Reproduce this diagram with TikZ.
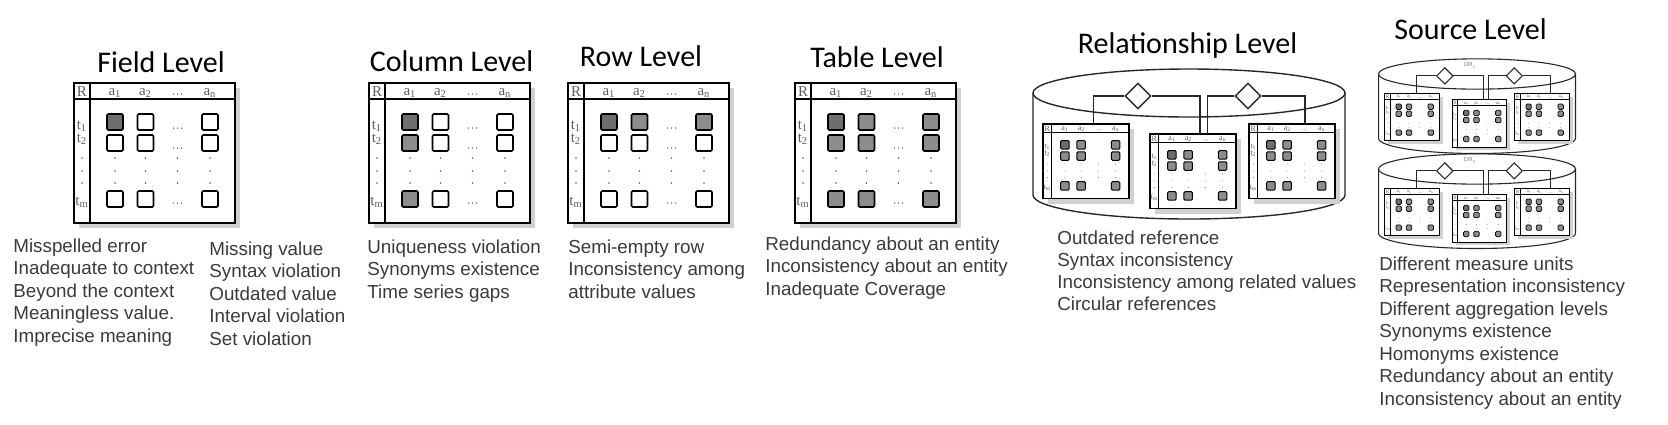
\documentclass[tikz,border=0pt]{standalone}
\usepackage{fontspec}
\setmainfont{Liberation Sans}
\newfontfamily\titlefont{Carlito}
\newfontfamily\cellfont{Liberation Serif}
\usetikzlibrary{shapes.geometric,calc}
\definecolor{txt}{RGB}{58,58,58}
\definecolor{dkc}{RGB}{110,110,110}
\definecolor{mdc}{RGB}{140,140,140}
\definecolor{labc}{RGB}{95,95,95}
\definecolor{shc}{RGB}{208,208,208}
\definecolor{cylc}{RGB}{40,40,40}
\newif\ifrowdots \rowdotstrue
\def\tablw{0.9pt}\def\cellw{0.8pt}\def\shoff{5}
\tikzset{
  c11/.style={fill=white}, c12/.style={fill=white}, c1n/.style={fill=white},
  c21/.style={fill=white}, c22/.style={fill=white}, c2n/.style={fill=white},
  cm1/.style={fill=white}, cm2/.style={fill=white}, cmn/.style={fill=white},
  fieldfill/.style={c11/.style={fill=dkc}},
  colfill/.style={c11/.style={fill=dkc}, c21/.style={fill=mdc}, cm1/.style={fill=mdc}},
  rowfill/.style={c11/.style={fill=dkc}, c12/.style={fill=mdc}, c1n/.style={fill=mdc}},
  tabfill/.style={c11/.style={fill=dkc}, c12/.style={fill=mdc}, c1n/.style={fill=mdc},
    c21/.style={fill=mdc}, c22/.style={fill=mdc}, c2n/.style={fill=mdc},
    cm1/.style={fill=mdc}, cm2/.style={fill=mdc}, cmn/.style={fill=mdc}},
  lab/.style={font=\cellfont\fontsize{7.5}{8}\selectfont, text=labc, inner sep=0pt, transform shape},
  title/.style={font=\titlefont\fontsize{15}{18}\selectfont, text=black, inner sep=0pt, anchor=base},
  body/.style={font=\fontsize{9.4}{11.25}\selectfont, text=txt, align=left, inner sep=0pt, anchor=north west},
  dmd/.style={shape=diamond, draw=cylc, fill=white, inner sep=0pt, aspect=1,
    minimum width=13pt, minimum height=13pt, transform shape},
}
\newcommand\hdt[2]{\fill[labc] (#1-4,#2) circle[radius=0.75] (#1,#2) circle[radius=0.75] (#1+4,#2) circle[radius=0.75];}
\newcommand\sqc[3]{\draw[line width=\cellw, rounded corners=0.6pt, #3] (#1-8,#2-8) rectangle (#1+8,#2+8);}
\newcommand\dqtab[1]{%
  \fill[shc] (\shoff,\shoff) rectangle (161+\shoff,140+\shoff);
  \node[draw, line width=\tablw, fill=white, inner sep=0pt, outer sep=0pt,
    minimum width=80.5pt, minimum height=70pt, anchor=north west, transform shape] (#1) at (0,0) {};
  \draw[line width=\tablw] (0,16) -- (161,16) (16,0) -- (16,140);
  \node[lab] (#1-R) at (8,9) {R};
  \node[lab] (#1-a1) at (41,10) {a\textsubscript{1}};
  \node[lab] (#1-a2) at (71.5,10) {a\textsubscript{2}};
  \node[lab] (#1-an) at (136,10) {a\textsubscript{n}};
  \hdt{103.5}{11}
  \node[lab] (#1-t1) at (8,43) {t\textsubscript{1}};
  \node[lab] (#1-t2) at (8,56) {t\textsubscript{2}};
  \node[lab] (#1-tm) at (8,119) {t\textsubscript{m}};
  \foreach \xx in {8,41,71.5,103.5,136}{\foreach \yy in {75,88,100}{\fill[labc] (\xx,\yy) circle[radius=0.9];}}
  \sqc{41}{39}{c11}\sqc{71.5}{39}{c12}\sqc{136}{39}{c1n}
  \sqc{41}{60}{c21}\sqc{71.5}{60}{c22}\sqc{136}{60}{c2n}
  \sqc{41}{116}{cm1}\sqc{71.5}{116}{cm2}\sqc{136}{116}{cmn}
  \ifrowdots\hdt{103.5}{45}\hdt{103.5}{65}\hdt{103.5}{120}\fi
}
% #1 name, #2 cylinder lw, #3 table lw, #4 cell lw
\newcommand\dqcyl[4]{%
  \draw[line width=#2, draw=cylc] (0,0) ellipse[x radius=156, y radius=24];
  \draw[line width=#2, draw=cylc] (-156,0) -- (-156,102) arc[start angle=180, end angle=0, x radius=156, y radius=24] -- (156,0);
  \rowdotsfalse\def\tablw{#3}\def\cellw{#4}\def\shoff{10}
  \begin{scope}[shift={(-146,31)}, scale=0.534, tabfill]\dqtab{#1L}\end{scope}
  \begin{scope}[shift={(-39,41)}, scale=0.534, tabfill]\dqtab{#1M}\end{scope}
  \begin{scope}[shift={(60,31)}, scale=0.534, tabfill]\dqtab{#1R}\end{scope}
  \node[dmd, line width=#2] (#1d1) at (-51,3) {};
  \node[dmd, line width=#2] (#1d2) at (59,3) {};
  \draw[line width=#2, draw=cylc] (#1d1.west) -| ($(#1L.north west)!0.59!(#1L.north east)$);
  \draw[line width=#2, draw=cylc] (#1d1.east) -| ($(#1M.north west)!0.58!(#1M.north east)$);
  \draw[line width=#2, draw=cylc] (#1d2.west) -| ($(#1M.north west)!0.67!(#1M.north east)$);
  \draw[line width=#2, draw=cylc] (#1d2.east) -| ($(#1R.north west)!0.65!(#1R.north east)$);
}
\begin{document}
\begin{tikzpicture}[x=0.5pt,y=-0.5pt]
\useasboundingbox (0,0) rectangle (1668,424);
% titles
\node[title] (tf) at (161,72) {Field Level};
\node[title] (tc) at (451.5,71) {Column Level};
\node[title] (tr) at (641,66) {Row Level};
\node[title] (tt) at (877,67) {Table Level};
\node[title] (trl) at (1187.5,53) {Relationship Level};
\node[title] (ts) at (1470.5,39) {Source Level};
% tables
\begin{scope}[shift={(74,83)}, fieldfill]\dqtab{fieldT}\end{scope}
\begin{scope}[shift={(369,83)}, colfill]\dqtab{colT}\end{scope}
\begin{scope}[shift={(568,83)}, rowfill]\dqtab{rowT}\end{scope}
\begin{scope}[shift={(795,83)}, tabfill]\dqtab{tabT}\end{scope}
% relationship cylinder
\begin{scope}[shift={(1189,93)}]\dqcyl{rl}{0.7pt}{0.6pt}{0.5pt}\end{scope}
% source cylinders
\begin{scope}[shift={(1477,74)}, scale=0.631]
  \dqcyl{sa}{0.55pt}{0.4pt}{0.35pt}
  \node[font=\fontsize{3}{3}\selectfont, text=gray, inner sep=0pt] (sal) at (-11,-14) {DR\textsubscript{1}};
\end{scope}
\begin{scope}[shift={(1477,169)}, scale=0.631]
  \dqcyl{sb}{0.55pt}{0.4pt}{0.35pt}
  \node[font=\fontsize{3}{3}\selectfont, text=gray, inner sep=0pt] (sbl) at (-11,-14) {DR\textsubscript{2}};
\end{scope}
% texts
\node[body] (f1) at (13,238) {Misspelled error\\Inadequate to context\\Beyond the context\\Meaningless value.\\Imprecise meaning};
\node[body] (f2) at (209,241) {Missing value\\Syntax violation\\Outdated value\\Interval violation\\Set violation};
\node[body] (cl) at (367,239) {Uniqueness violation\\Synonyms existence\\Time series gaps};
\node[body] (rw) at (568,239) {Semi-empty row\\Inconsistency among\\attribute values};
\node[body] (tb) at (765,236) {Redundancy about an entity\\Inconsistency about an entity\\Inadequate Coverage};
\node[body, font=\fontsize{9.4}{11}\selectfont] (rs) at (1057,230) {Outdated reference\\Syntax inconsistency\\Inconsistency among related values\\Circular references};
\node[body] (sr) at (1379,256) {Different measure units\\Representation inconsistency\\Different aggregation levels\\Synonyms existence\\Homonyms existence\\Redundancy about an entity\\Inconsistency about an entity};
\end{tikzpicture}
\end{document}
